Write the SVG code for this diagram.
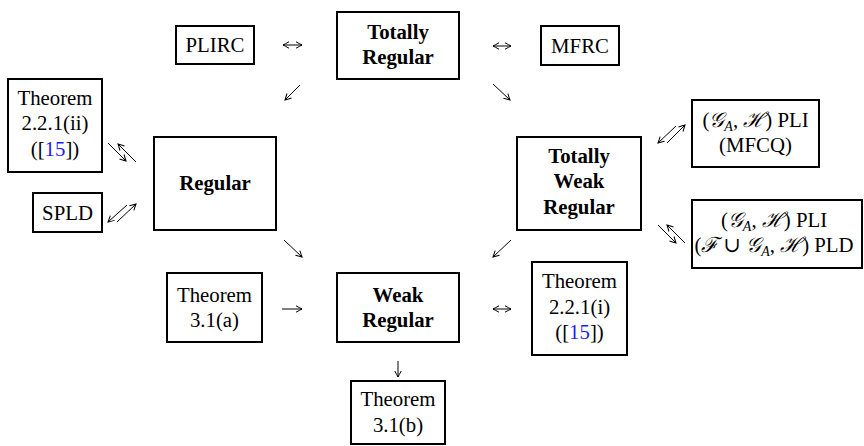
<svg xmlns="http://www.w3.org/2000/svg" width="864" height="446" viewBox="0 0 864 446" font-family="'Liberation Serif', 'DejaVu Serif', 'Times New Roman', Times, serif">
<style>
.box{fill:#fff;stroke:#000;stroke-width:2}
.t{font-family:'Liberation Serif','DejaVu Serif','Times New Roman',Times,serif;font-size:20.8px;fill:#000;text-anchor:middle}
.b{font-weight:bold}
.ref{fill:#1a1aff}
.m{font-style:italic}
.sub{font-size:14px;font-style:italic}
.c{fill:none;stroke:#000;stroke-width:1}
</style>
<defs>
<marker id="ah" viewBox="-7 -4 8 8" refX="0" refY="0" markerWidth="8" markerHeight="8" markerUnits="userSpaceOnUse" orient="auto-start-reverse">
<path d="M-6,-3.2 Q-2,-1 0,0 Q-2,1 -6,3.2" fill="none" stroke="#000" stroke-width="1"/>
</marker>
</defs>
<g id="connectors">
<path class="c" d="M283,45 H302" marker-start="url(#ah)" marker-end="url(#ah)"/>
<path class="c" d="M493,46 H511" marker-start="url(#ah)" marker-end="url(#ah)"/>
<path class="c" d="M300,85 L285,100" marker-end="url(#ah)"/>
<path class="c" d="M493,84 L510,100" marker-end="url(#ah)"/>
<path class="c" d="M108,143 L126,161" marker-end="url(#ah)"/>
<path class="c" d="M136,162 L118,144" marker-end="url(#ah)"/>
<path class="c" d="M127,205 L108,222" marker-end="url(#ah)"/>
<path class="c" d="M117,222 L136,204" marker-end="url(#ah)"/>
<path class="c" d="M284,240 L302,257" marker-end="url(#ah)"/>
<path class="c" d="M511,240 L493,257" marker-end="url(#ah)"/>
<path class="c" d="M676,126 L658,143" marker-end="url(#ah)"/>
<path class="c" d="M667,143 L685,125" marker-end="url(#ah)"/>
<path class="c" d="M658,225 L676,243" marker-end="url(#ah)"/>
<path class="c" d="M685,243 L667,225" marker-end="url(#ah)"/>
<path class="c" d="M282,309 H302" marker-end="url(#ah)"/>
<path class="c" d="M493,309 H511" marker-start="url(#ah)" marker-end="url(#ah)"/>
<path class="c" d="M398,361 V377" marker-end="url(#ah)"/>
</g>
<g id="plirc">
<rect class="box" x="176" y="26" width="78" height="38"/>
<text class="t" x="215" y="52">PLIRC</text>
</g>
<g id="totally-regular">
<rect class="box" x="337" y="12" width="122" height="67"/>
<text class="t b" x="398" y="39">Totally</text>
<text class="t b" x="398" y="64">Regular</text>
</g>
<g id="mfrc">
<rect class="box" x="541" y="26" width="78" height="39"/>
<text class="t" x="580" y="52.5">MFRC</text>
</g>
<g id="thm-221-ii">
<rect class="box" x="8" y="79" width="94" height="93"/>
<text class="t" x="55" y="104.5">Theorem</text>
<text class="t" x="55" y="130">2.2.1(ii)</text>
<text class="t" x="55" y="155.5">([<tspan class="ref">15</tspan>])</text>
</g>
<g id="spld">
<rect class="box" x="33" y="193" width="69" height="39"/>
<text class="t" x="67.5" y="219.5">SPLD</text>
</g>
<g id="regular">
<rect class="box" x="154" y="137" width="122" height="93"/>
<text class="t b" x="215" y="190">Regular</text>
</g>
<g id="totally-weak-regular">
<rect class="box" x="517" y="137" width="124" height="93"/>
<text class="t b" x="579" y="162.5">Totally</text>
<text class="t b" x="579" y="188">Weak</text>
<text class="t b" x="579" y="213.5">Regular</text>
</g>
<g id="pli-mfcq">
<rect class="box" x="692" y="100" width="127" height="67"/>
<text class="t" x="755.5" y="126.5">(<tspan class="m">𝒢</tspan><tspan class="sub" dy="4">A</tspan><tspan dy="-4">, </tspan><tspan class="m">ℋ</tspan>) PLI</text>
<text class="t" x="755.5" y="152">(MFCQ)</text>
</g>
<g id="pli-pld">
<rect class="box" x="692" y="200" width="170" height="68"/>
<text class="t" x="774" y="226.5">(<tspan class="m">𝒢</tspan><tspan class="sub" dy="4">A</tspan><tspan dy="-4">, </tspan><tspan class="m">ℋ</tspan>) PLI</text>
<text class="t" x="774" y="252">(<tspan class="m">ℱ</tspan> ∪ <tspan class="m">𝒢</tspan><tspan class="sub" dy="4">A</tspan><tspan dy="-4">, </tspan><tspan class="m">ℋ</tspan>) PLD</text>
</g>
<g id="thm-31a">
<rect class="box" x="167" y="273" width="95" height="69"/>
<text class="t" x="214.5" y="301.5">Theorem</text>
<text class="t" x="214.5" y="327">3.1(a)</text>
</g>
<g id="weak-regular">
<rect class="box" x="337" y="273" width="122" height="69"/>
<text class="t b" x="398" y="301.5">Weak</text>
<text class="t b" x="398" y="327">Regular</text>
</g>
<g id="thm-221-i">
<rect class="box" x="532" y="262" width="95" height="93"/>
<text class="t" x="579.5" y="288">Theorem</text>
<text class="t" x="579.5" y="313.5">2.2.1(i)</text>
<text class="t" x="579.5" y="339">([<tspan class="ref">15</tspan>])</text>
</g>
<g id="thm-31b">
<rect class="box" x="351" y="381" width="94" height="63"/>
<text class="t" x="398" y="406">Theorem</text>
<text class="t" x="398" y="431.5">3.1(b)</text>
</g>
</svg>
